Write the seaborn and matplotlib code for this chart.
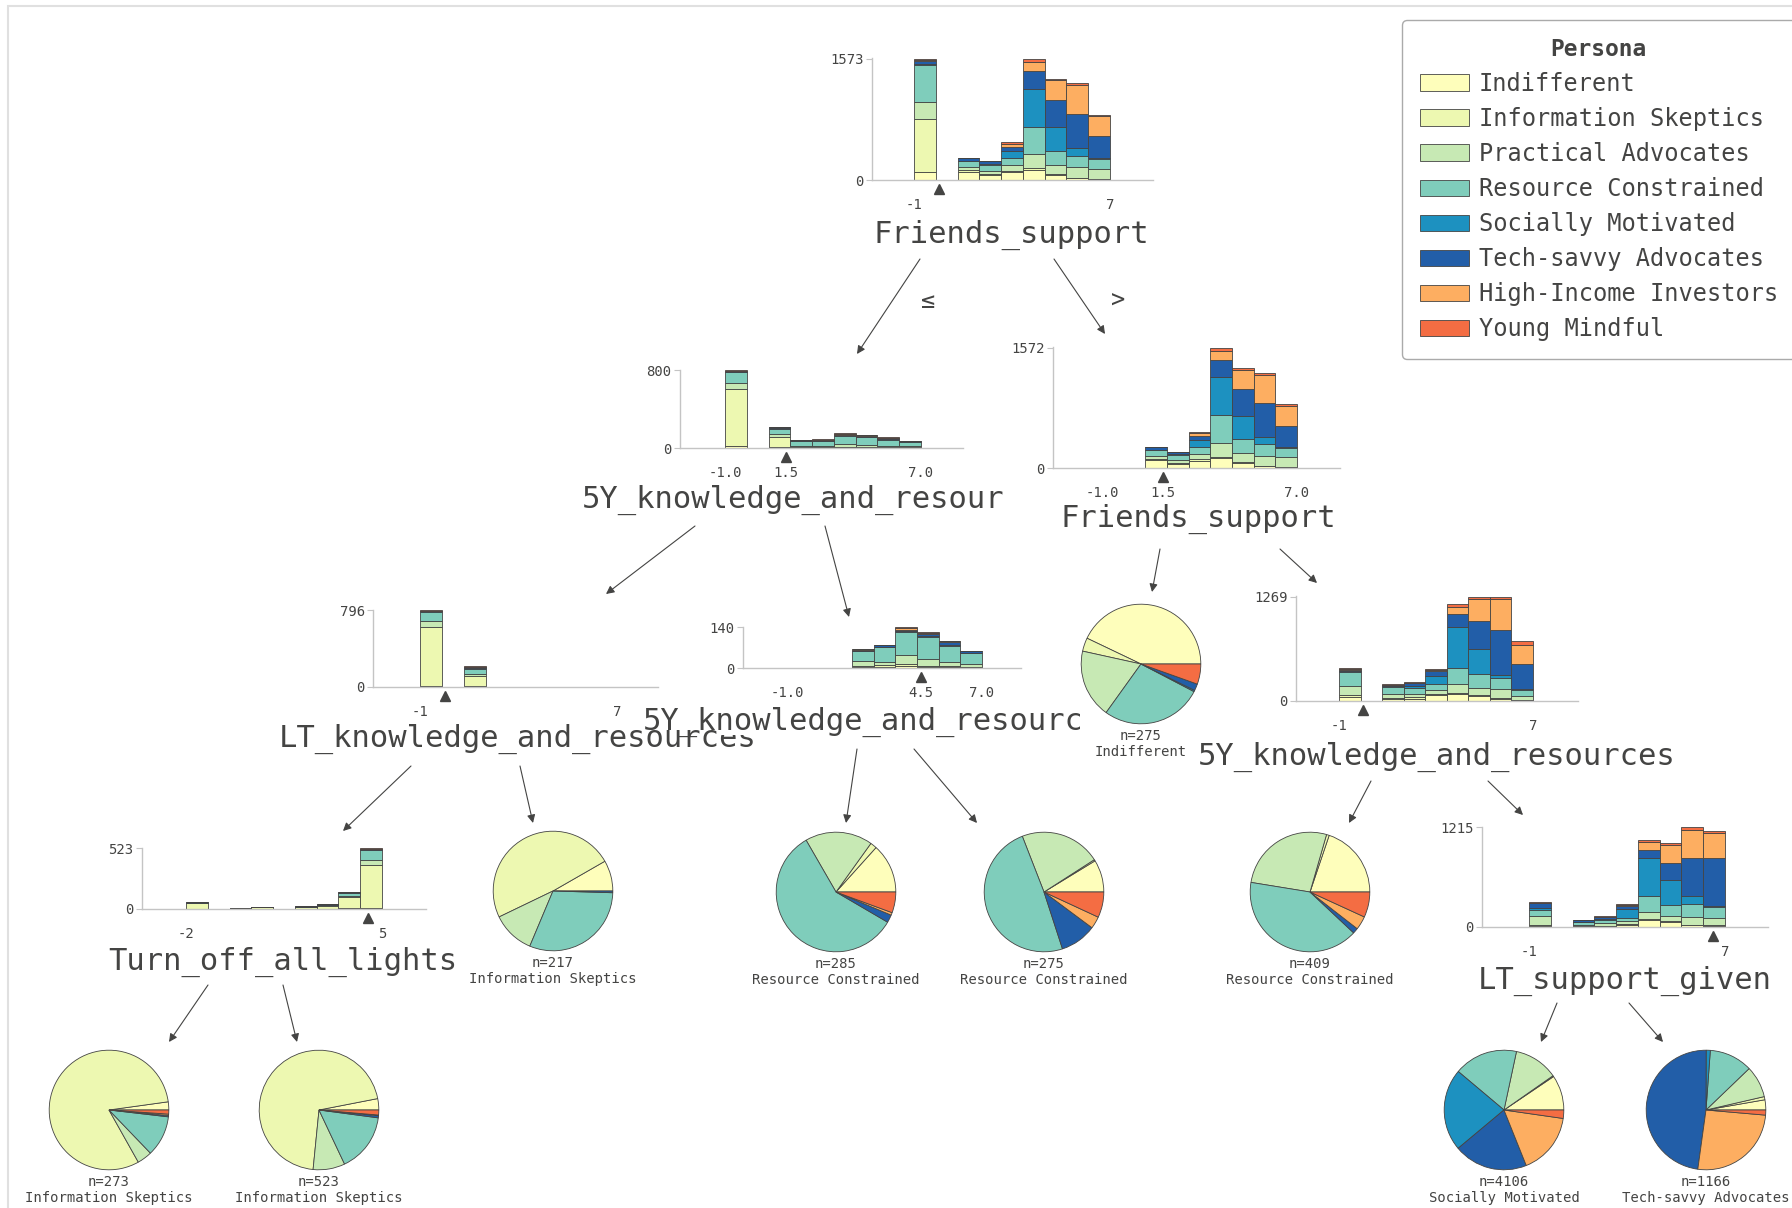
import numpy as np
import pandas as pd
import seaborn as sns
import matplotlib.pyplot as plt
from matplotlib.patches import Patch, Rectangle
from matplotlib.transforms import Bbox, TransformedBbox, ScaledTranslation

personas = ['Indifferent', 'Information Skeptics', 'Practical Advocates', 'Resource Constrained',
            'Socially Motivated', 'Tech-savvy Advocates', 'High-Income Investors', 'Young Mindful']
colors = ['#fefebb', '#edf8b1', '#c7e9b4', '#7fcdbb', '#1d91c0', '#225ea8', '#fdae61', '#f46d43']

# stacked class counts per histogram bin (9 bins, columns follow `personas`)
root_counts = [
    [103, 690, 214, 480, 20, 40, 10, 16],
    [0, 0, 0, 0, 0, 0, 0, 0],
    [104, 22, 36, 80, 10, 30, 1, 4],
    [62, 18, 40, 80, 12, 30, 0, 2],
    [98, 22, 68, 102, 88, 54, 35, 22],
    [130, 20, 182, 357, 496, 224, 120, 44],
    [66, 13, 118, 184, 303, 359, 250, 22],
    [22, 9, 132, 153, 100, 442, 367, 26],
    [9, 6, 128, 124, 12, 290, 265, 14],
]
knowledge5y_left_counts = [
    [25, 580, 70, 105, 5, 10, 2, 3],
    [0, 0, 0, 0, 0, 0, 0, 0],
    [15, 100, 25, 60, 5, 10, 2, 3],
    [5, 5, 10, 50, 3, 8, 2, 2],
    [5, 5, 12, 52, 3, 8, 2, 3],
    [8, 6, 30, 80, 5, 10, 6, 5],
    [6, 4, 25, 78, 5, 8, 5, 4],
    [4, 4, 16, 62, 4, 12, 6, 2],
    [3, 3, 10, 42, 3, 10, 2, 2],
]
friends_right_counts = [
    [0, 0, 0, 0, 0, 3, 0, 0],
    [0, 0, 0, 0, 0, 3, 0, 0],
    [99, 17, 35, 78, 10, 30, 0, 2],
    [52, 15, 35, 73, 10, 30, 0, 0],
    [95, 20, 65, 99, 86, 52, 35, 22],
    [129, 20, 181, 357, 495, 224, 120, 46],
    [65, 12, 116, 181, 301, 357, 250, 23],
    [20, 8, 129, 151, 99, 439, 366, 28],
    [8, 5, 125, 120, 10, 280, 258, 25],
]
lt_knowledge_counts = [
    [15, 605, 62, 100, 4, 6, 2, 2],
    [0, 0, 0, 0, 0, 0, 0, 0],
    [10, 100, 28, 52, 5, 12, 4, 4],
    [0, 0, 0, 0, 0, 0, 0, 0],
    [0, 0, 0, 0, 0, 0, 0, 0],
    [0, 0, 0, 0, 0, 0, 0, 0],
    [0, 0, 0, 0, 0, 0, 0, 0],
    [0, 0, 0, 0, 0, 0, 0, 0],
    [0, 0, 0, 0, 0, 0, 0, 0],
]
knowledge5y_mid_counts = [
    [0, 0, 0, 0, 0, 0, 0, 0],
    [0, 0, 0, 0, 0, 0, 0, 0],
    [0, 0, 0, 0, 0, 0, 0, 0],
    [3, 5, 15, 35, 1, 4, 1, 1],
    [5, 5, 10, 52, 1, 5, 1, 1],
    [8, 5, 30, 82, 2, 5, 4, 4],
    [5, 3, 22, 78, 2, 6, 4, 3],
    [3, 3, 15, 55, 2, 10, 4, 2],
    [2, 3, 10, 35, 1, 7, 1, 1],
]
knowledge5y_right_counts = [
    [52, 20, 108, 173, 10, 15, 15, 10],
    [0, 0, 0, 0, 0, 3, 0, 0],
    [25, 15, 40, 88, 10, 15, 5, 3],
    [30, 15, 40, 70, 30, 30, 5, 6],
    [72, 15, 48, 72, 100, 52, 15, 9],
    [80, 15, 110, 200, 490, 160, 92, 33],
    [60, 10, 92, 168, 300, 340, 272, 27],
    [25, 8, 112, 140, 28, 552, 372, 32],
    [10, 8, 40, 80, 8, 300, 240, 39],
]
lights_counts = [
    [2, 48, 2, 3, 0, 2, 0, 0],
    [0, 2, 0, 0, 0, 0, 0, 0],
    [0, 4, 0, 1, 0, 0, 0, 0],
    [1, 12, 1, 2, 0, 1, 0, 0],
    [0, 3, 0, 0, 0, 0, 0, 0],
    [1, 16, 2, 2, 0, 1, 0, 0],
    [2, 28, 3, 5, 0, 1, 0, 1],
    [5, 95, 12, 25, 2, 8, 1, 2],
    [8, 370, 42, 85, 3, 8, 3, 4],
]
support_counts = [
    [12, 10, 110, 80, 15, 60, 5, 10],
    [0, 0, 0, 0, 0, 3, 0, 0],
    [5, 5, 20, 25, 0, 25, 3, 5],
    [8, 5, 30, 40, 10, 30, 2, 4],
    [30, 10, 35, 40, 110, 30, 13, 10],
    [88, 12, 80, 195, 463, 108, 88, 32],
    [60, 8, 68, 132, 312, 200, 220, 22],
    [20, 8, 92, 160, 100, 467, 340, 28],
    [15, 8, 92, 128, 12, 590, 306, 24],
]

# leaf class counts (pies)
leaf_indifferent = [118, 10, 51, 75, 1, 5, 0, 15]
leaf_lt_right = [18, 106, 25, 67, 0, 1, 0, 0]
leaf_mid_left = [38, 5, 52, 166, 0, 6, 2, 16]
leaf_mid_right = [24, 1, 60, 135, 0, 27, 9, 19]
leaf_5y_left = [81, 3, 110, 166, 0, 6, 15, 28]
leaf_lights_left = [6, 221, 11, 30, 0, 1, 1, 3]
leaf_lights_right = [16, 368, 45, 83, 0, 3, 1, 7]
leaf_support_left = [388, 11, 490, 707, 912, 821, 684, 93]
leaf_support_right = [32, 10, 100, 136, 13, 558, 301, 16]

W, H = 1792, 1208
EDGE = '#444443'
TEXT = '#444443'
palette = dict(zip(personas, colors))

sns.set_theme(style='white')
plt.rcParams['font.family'] = ['DejaVu Sans Mono', 'DejaVu Sans']

fig = plt.figure(figsize=(W / 100, H / 100), dpi=100)

# faint frame of the rendered tree image
fig.add_artist(Rectangle((8 / W, -0.01), 1.0, 1 - 6 / H + 0.01, transform=fig.transFigure,
                         facecolor='none', edgecolor='#e0e0e0', linewidth=1.5, zorder=0))


def draw_hist(counts, lo, hi, px, box, split, ticks, ticklabels):
    L, T, R, B = box
    ax = fig.add_axes([L / W, 1 - B / H, (R - L) / W, (B - T) / H])
    edges = np.linspace(lo, hi, len(counts) + 1)
    mids = (edges[:-1] + edges[1:]) / 2
    df = pd.DataFrame([(m, p, c) for m, row in zip(mids, counts) for p, c in zip(personas, row)],
                      columns=['value', 'persona', 'count'])
    sns.histplot(data=df, x='value', weights='count', hue='persona', hue_order=personas[::-1],
                 palette=palette, multiple='stack', bins=[float(e) for e in edges], alpha=1,
                 edgecolor=EDGE, linewidth=0.6, legend=False, ax=ax)
    ymax = max(sum(r) for r in counts)
    upp = (hi - lo) / (px[1] - px[0])
    ax.set_xlim(lo - (px[0] - L) * upp, hi + (R - px[1]) * upp)
    ax.set_ylim(0, ymax * 1.005)
    ax.set_yticks([0, ymax], ['0', str(ymax)])
    ax.set_xticks(ticks, ticklabels)
    ax.set_xlabel('')
    ax.set_ylabel('')
    ax.patch.set_alpha(0)
    for s in ['top', 'right']:
        ax.spines[s].set_visible(False)
    for s in ['left', 'bottom']:
        ax.spines[s].set_color('#c4c4c4')
        ax.spines[s].set_linewidth(1)
    ax.tick_params(axis='y', length=4, width=0.8, color='#c4c4c4', labelsize=10,
                   labelcolor=TEXT, pad=2, left=True)
    ax.tick_params(axis='x', length=0, pad=13, labelsize=10, labelcolor=TEXT)
    # split marker
    ax.plot([split], [0], marker='^', markersize=7.5, color=EDGE, clip_on=False,
            transform=ax.get_xaxis_transform() + ScaledTranslation(0, -0.09, fig.dpi_scale_trans))
    return ax


def draw_pie(cx, cy, counts, r=61):
    ax = fig.add_axes([(cx - r) / W, 1 - (cy + r) / H, 2 * r / W, 2 * r / H])
    vals = [(c, col) for c, col in zip(counts, colors) if c > 0]
    ax.pie([v for v, _ in vals], colors=[c for _, c in vals], startangle=0, counterclock=True,
           wedgeprops=dict(edgecolor=EDGE, linewidth=0.6))
    ax.set_aspect('auto')
    ax.set_xlim(-1.02, 1.02)
    ax.set_ylim(-1.02, 1.02)
    name = personas[int(np.argmax(counts))]
    fig.text(cx / W, 1 - (cy + 72) / H, f'n={sum(counts)}', ha='center', va='center',
             fontsize=10, color=TEXT)
    fig.text(cx / W, 1 - (cy + 88) / H, name, ha='center', va='center', fontsize=10, color=TEXT)


def feature_label(cx, base, s, clip_right=None, z=3):
    t = fig.text(cx / W, 1 - base / H, s, ha='center', va='baseline', fontsize=22, color=TEXT,
                 zorder=z)
    if clip_right is not None:
        t.set_clip_box(TransformedBbox(Bbox([[0, 0], [clip_right / W, 1]]), fig.transFigure))
        t.set_clip_on(True)
    return t


# decision nodes
draw_hist(root_counts, -1, 7, (914, 1110), (872, 58, 1153, 180), 0.0, [-1, 7], ['-1', '7'])
draw_hist(knowledge5y_left_counts, -1, 7, (725, 921), (680, 370, 963, 448), 1.5,
          [-1, 1.5, 7], ['-1.0', '1.5', '7.0'])
draw_hist(friends_right_counts, -1, 7, (1102, 1297), (1053, 347, 1340, 468), 1.5,
          [-1, 1.5, 7], ['-1.0', '1.5', '7.0'])
draw_hist(lt_knowledge_counts, -1, 7, (420, 617), (373, 610, 658, 687), 0.0, [-1, 7], ['-1', '7'])
draw_hist(knowledge5y_mid_counts, -1, 7, (787, 982), (743, 627, 1021, 668), 4.5,
          [-1, 4.5, 7], ['-1.0', '4.5', '7.0'])
draw_hist(knowledge5y_right_counts, -1, 7, (1339, 1533), (1296, 596, 1578, 701), 0.0,
          [-1, 7], ['-1', '7'])
draw_hist(lights_counts, -2, 5, (186, 382), (142, 848, 426, 909), 4.5, [-2, 5], ['-2', '5'])
draw_hist(support_counts, -1, 7, (1529, 1725), (1482, 827, 1768, 927), 6.5, [-1, 7], ['-1', '7'])

feature_label(1011, 243, 'Friends_support')
feature_label(821, 508, '5Y_knowledge_and_resources', clip_right=1006)
feature_label(1198, 527, 'Friends_support')
feature_label(518, 747, 'LT_knowledge_and_resources')
# the middle node sits over the tail of its left neighbour's label
fig.add_artist(Rectangle((718 / W, 1 - 735 / H), (1080 - 718) / W, 35 / H,
                         transform=fig.transFigure, facecolor='white', edgecolor='none',
                         zorder=3.5))
feature_label(882, 730, '5Y_knowledge_and_resources', clip_right=1080, z=4)
feature_label(1437, 765, '5Y_knowledge_and_resources')
feature_label(283, 970, 'Turn_off_all_lights')
feature_label(1625, 989, 'LT_support_given')

# leaves
draw_pie(1141, 664, leaf_indifferent)
draw_pie(553, 891, leaf_lt_right)
draw_pie(836, 892, leaf_mid_left)
draw_pie(1044, 892, leaf_mid_right)
draw_pie(1310, 892, leaf_5y_left)
draw_pie(109, 1110, leaf_lights_left)
draw_pie(319, 1110, leaf_lights_right)
draw_pie(1504, 1110, leaf_support_left)
draw_pie(1706, 1110, leaf_support_right)

# edges between nodes
ov = fig.add_axes([0, 0, 1, 1])
ov.set_xlim(0, W)
ov.set_ylim(H, 0)
ov.axis('off')
arrows = [((920, 259), (857, 354)), ((1054, 259), (1105, 334)),
          ((695, 526), (606, 594)), ((825, 526), (849, 617)),
          ((1160, 549), (1152, 592)), ((1280, 549), (1317, 583)),
          ((411, 766), (343, 831)), ((520, 766), (533, 823)),
          ((857, 749), (846, 823)), ((914, 749), (977, 823)),
          ((1371, 781), (1349, 823)), ((1488, 781), (1523, 815)),
          ((208, 985), (169, 1042)), ((283, 985), (297, 1042)),
          ((1557, 1003), (1541, 1042)), ((1629, 1003), (1663, 1042))]
for start, end in arrows:
    ov.annotate('', xy=end, xytext=start,
                arrowprops=dict(arrowstyle='-|>', color=EDGE, lw=0.8, mutation_scale=12,
                                shrinkA=0, shrinkB=0))
ov.text(928, 301, '≤', ha='center', va='center', fontsize=17, color=TEXT)
ov.text(1118, 301, '>', ha='center', va='center', fontsize=17, color=TEXT)

handles = [Patch(facecolor=c, edgecolor=EDGE, linewidth=0.6, label=p)
           for p, c in zip(personas, colors)]
leg = fig.legend(handles=handles, title='Persona', loc='upper left',
                 bbox_to_anchor=(1402 / W, 1 - 20 / H), bbox_transform=fig.transFigure,
                 fontsize=17, title_fontsize=16.5, frameon=True, framealpha=1,
                 borderpad=0.75, labelspacing=0.47, handlelength=2.1, handleheight=0.7,
                 handletextpad=0.4, borderaxespad=0)
leg.get_title().set_fontweight('bold')
leg.get_title().set_color(TEXT)
leg.get_frame().set_edgecolor('#aaaaaa')
leg.get_frame().set_linewidth(1)
for t in leg.get_texts():
    t.set_color(TEXT)

fig.savefig('out.png', dpi=100, facecolor='white')
